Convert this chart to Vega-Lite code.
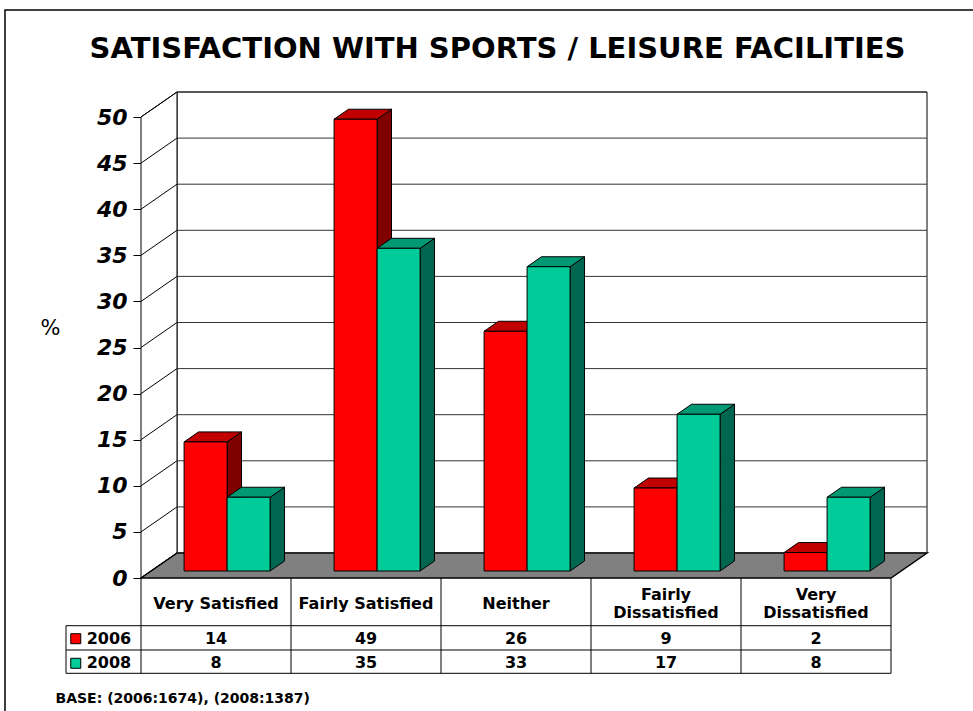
{
  "$schema": "https://vega.github.io/schema/vega-lite/v6.json",
  "width": 973,
  "height": 711,
  "autosize": {"type": "none"},
  "padding": 0,
  "background": "white",
  "config": {
    "view": {"stroke": null},
    "font": "DejaVu Sans",
    "axis": {"grid": false, "labels": false, "ticks": false, "domain": false}
  },
  "datasets": {
    "bars": [
      {"category": "Very Satisfied", "year": "2006", "value": 14},
      {"category": "Very Satisfied", "year": "2008", "value": 8},
      {"category": "Fairly Satisfied", "year": "2006", "value": 49},
      {"category": "Fairly Satisfied", "year": "2008", "value": 35},
      {"category": "Neither", "year": "2006", "value": 26},
      {"category": "Neither", "year": "2008", "value": 33},
      {"category": "Fairly Dissatisfied", "year": "2006", "value": 9},
      {"category": "Fairly Dissatisfied", "year": "2008", "value": 17},
      {"category": "Very Dissatisfied", "year": "2006", "value": 2},
      {"category": "Very Dissatisfied", "year": "2008", "value": 8}
    ],
    "grid": [
      {"v": 0}, {"v": 5}, {"v": 10}, {"v": 15}, {"v": 20}, {"v": 25},
      {"v": 30}, {"v": 35}, {"v": 40}, {"v": 45}, {"v": 50}
    ]
  },
  "layer": [
    {
      "data": {"values": [{}]},
      "mark": {"type": "rect", "filled": false, "stroke": "black", "strokeWidth": 1.5},
      "encoding": {
        "x": {"datum": -0.9067, "type": "quantitative", "scale": {"domain": [0, 5], "range": [141, 891], "nice": false, "zero": false}},
        "x2": {"datum": 6},
        "y": {"datum": 61.6, "type": "quantitative", "scale": {"domain": [0, 50], "range": [578, 117], "nice": false, "zero": false}},
        "y2": {"datum": -20}
      }
    },
    {
      "data": {"values": [{"title": "SATISFACTION WITH SPORTS / LEISURE FACILITIES"}]},
      "mark": {"type": "text", "font": "DejaVu Sans", "fontSize": 29, "fontWeight": "bold", "color": "black", "align": "center", "baseline": "alphabetic"},
      "encoding": {
        "x": {"datum": 2.3767, "type": "quantitative"},
        "y": {"datum": 56.4, "type": "quantitative"},
        "text": {"field": "title"}
      }
    },
    {
      "data": {"values": [{}]},
      "mark": {"type": "rect", "fill": "white", "stroke": "black", "strokeWidth": 1, "xOffset": 36, "x2Offset": 36, "yOffset": -25, "y2Offset": -25},
      "encoding": {
        "x": {"datum": 0, "type": "quantitative"},
        "x2": {"datum": 5},
        "y": {"datum": 0, "type": "quantitative"},
        "y2": {"datum": 50}
      }
    },
    {
      "data": {"values": [{}]},
      "transform": [
        {"calculate": "0", "as": "near"},
        {"calculate": "1", "as": "far"},
        {"fold": ["near", "far"], "as": ["face", "d"]},
        {"calculate": "datum.d * 0.24", "as": "wx"},
        {"calculate": "50 + datum.d * 2.7115", "as": "wy"},
        {"calculate": "datum.d * 2.7115", "as": "wy0"}
      ],
      "mark": {"type": "area", "orient": "vertical", "fill": "white", "stroke": "black", "strokeWidth": 1},
      "encoding": {
        "x": {"field": "wx", "type": "quantitative"},
        "y": {"field": "wy", "type": "quantitative", "stack": null},
        "y2": {"field": "wy0"}
      }
    },
    {
      "data": {"values": [{}]},
      "transform": [
        {"calculate": "0", "as": "near"},
        {"calculate": "1", "as": "far"},
        {"fold": ["near", "far"], "as": ["face", "d"]},
        {"calculate": "datum.d * 0.24", "as": "fx0"},
        {"calculate": "5 + datum.d * 0.24", "as": "fx1"},
        {"calculate": "datum.d * 2.7115", "as": "fy"}
      ],
      "mark": {"type": "area", "orient": "horizontal", "fill": "#808080", "stroke": "black", "strokeWidth": 1.5},
      "encoding": {
        "y": {"field": "fy", "type": "quantitative"},
        "x": {"field": "fx0", "type": "quantitative", "stack": null},
        "x2": {"field": "fx1"}
      }
    },
    {
      "data": {"name": "grid"},
      "mark": {"type": "rule", "stroke": "#333333", "strokeWidth": 1, "xOffset": 36, "x2Offset": 36, "yOffset": -25},
      "encoding": {
        "x": {"datum": 0, "type": "quantitative"},
        "x2": {"datum": 5},
        "y": {
          "field": "v",
          "type": "quantitative",
          "axis": {
            "orient": "left",
            "title": "%",
            "titleAngle": 0,
            "titleX": -91,
            "titleY": 328,
            "titleAlign": "center",
            "titleBaseline": "middle",
            "titleFont": "DejaVu Sans",
            "titleFontSize": 21,
            "titleFontWeight": "normal",
            "titleColor": "black",
            "offset": -141,
            "values": [0, 5, 10, 15, 20, 25, 30, 35, 40, 45, 50],
            "labels": true,
            "ticks": true,
            "domain": true,
            "labelFont": "DejaVu Sans",
            "labelFontSize": 22,
            "labelFontWeight": "bold",
            "labelFontStyle": "italic",
            "labelColor": "black",
            "labelPadding": 6,
            "labelOverlap": false,
            "tickSize": 8,
            "tickColor": "black",
            "domainColor": "black",
            "grid": false
          }
        }
      }
    },
    {
      "data": {"name": "grid"},
      "mark": {"type": "rule", "stroke": "black", "strokeWidth": 1, "x2Offset": 36, "y2Offset": -25},
      "encoding": {
        "x": {"datum": 0, "type": "quantitative"},
        "x2": {"datum": 0},
        "y": {"field": "v", "type": "quantitative"},
        "y2": {"field": "v"}
      }
    },
    {
      "data": {"name": "bars"},
      "transform": [
        {"calculate": "indexof(['Very Satisfied','Fairly Satisfied','Neither','Fairly Dissatisfied','Very Dissatisfied'], datum.category)", "as": "ci"},
        {"calculate": "datum.ci + 0.22 + (datum.year == '2008' ? 0.2867 : 0)", "as": "xl"},
        {"calculate": "0.28", "as": "near"},
        {"calculate": "0.68", "as": "far"},
        {"fold": ["near", "far"], "as": ["face", "d"]},
        {"calculate": "datum.xl + 0.2867 + datum.d * 0.24", "as": "sx"},
        {"calculate": "datum.value + datum.d * 2.7115", "as": "sy"},
        {"calculate": "datum.d * 2.7115", "as": "sy0"}
      ],
      "mark": {"type": "area", "orient": "vertical", "stroke": "black", "strokeWidth": 1},
      "encoding": {
        "x": {"field": "sx", "type": "quantitative"},
        "y": {"field": "sy", "type": "quantitative", "stack": null},
        "y2": {"field": "sy0"},
        "detail": [{"field": "category"}, {"field": "year"}],
        "fill": {"condition": {"test": "datum.year == '2006'", "value": "#800000"}, "value": "#006650"}
      }
    },
    {
      "data": {"name": "bars"},
      "transform": [
        {"calculate": "indexof(['Very Satisfied','Fairly Satisfied','Neither','Fairly Dissatisfied','Very Dissatisfied'], datum.category)", "as": "ci"},
        {"calculate": "datum.ci + 0.22 + (datum.year == '2008' ? 0.2867 : 0)", "as": "xl"},
        {"calculate": "0.28", "as": "near"},
        {"calculate": "0.68", "as": "far"},
        {"fold": ["near", "far"], "as": ["face", "d"]},
        {"calculate": "datum.xl + datum.d * 0.24", "as": "tx0"},
        {"calculate": "datum.xl + 0.2867 + datum.d * 0.24", "as": "tx1"},
        {"calculate": "datum.value + datum.d * 2.7115", "as": "ty"}
      ],
      "mark": {"type": "area", "orient": "horizontal", "stroke": "black", "strokeWidth": 1},
      "encoding": {
        "y": {"field": "ty", "type": "quantitative"},
        "x": {"field": "tx0", "type": "quantitative", "stack": null},
        "x2": {"field": "tx1"},
        "detail": [{"field": "category"}, {"field": "year"}],
        "fill": {"condition": {"test": "datum.year == '2006'", "value": "#C00000"}, "value": "#009973"}
      }
    },
    {
      "data": {"name": "bars"},
      "transform": [
        {"calculate": "indexof(['Very Satisfied','Fairly Satisfied','Neither','Fairly Dissatisfied','Very Dissatisfied'], datum.category)", "as": "ci"},
        {"calculate": "datum.ci + 0.22 + (datum.year == '2008' ? 0.2867 : 0) + 0.0672", "as": "fx"},
        {"calculate": "datum.fx + 0.2867", "as": "fx2"},
        {"calculate": "0.759", "as": "fy0"},
        {"calculate": "datum.value + 0.759", "as": "fy"}
      ],
      "mark": {"type": "rect", "stroke": "black", "strokeWidth": 1},
      "encoding": {
        "x": {
          "field": "fx",
          "type": "quantitative",
          "axis": {
            "orient": "bottom",
            "title": "BASE: (2006:1674), (2008:1387)",
            "labels": false,
            "ticks": false,
            "domain": false,
            "grid": false,
            "titleX": 55,
            "titleY": -9,
            "titleAlign": "left",
            "titleBaseline": "alphabetic",
            "titleFont": "DejaVu Sans",
            "titleFontSize": 14,
            "titleFontWeight": "bold",
            "titleColor": "black"
          }
        },
        "x2": {"field": "fx2"},
        "y": {"field": "fy0", "type": "quantitative"},
        "y2": {"field": "fy"},
        "fill": {"condition": {"test": "datum.year == '2006'", "value": "#FF0000"}, "value": "#00CC99"}
      }
    },
    {
      "data": {"name": "bars"},
      "transform": [
        {"filter": "datum.year == '2006'"},
        {"calculate": "indexof(['Very Satisfied','Fairly Satisfied','Neither','Fairly Dissatisfied','Very Dissatisfied'], datum.category)", "as": "ci"}
      ],
      "mark": {"type": "rule", "stroke": "black", "strokeWidth": 1},
      "encoding": {
        "x": {"field": "ci", "type": "quantitative"},
        "y": {"datum": 0, "type": "quantitative"},
        "y2": {"datum": -10.336}
      }
    },
    {
      "data": {"values": [{}]},
      "mark": {"type": "rule", "stroke": "black", "strokeWidth": 1},
      "encoding": {
        "x": {"datum": 5, "type": "quantitative"},
        "y": {"datum": 0, "type": "quantitative"},
        "y2": {"datum": -10.336}
      }
    },
    {
      "data": {"values": [{}]},
      "mark": {"type": "rule", "stroke": "black", "strokeWidth": 1},
      "encoding": {
        "x": {"datum": -0.5, "type": "quantitative"},
        "y": {"datum": -5.174, "type": "quantitative"},
        "y2": {"datum": -10.336}
      }
    },
    {
      "data": {"values": [{}]},
      "mark": {"type": "rule", "stroke": "black", "strokeWidth": 1},
      "encoding": {
        "x": {"datum": -0.5, "type": "quantitative"},
        "x2": {"datum": 5},
        "y": {"datum": -5.174, "type": "quantitative"}
      }
    },
    {
      "data": {"values": [{}]},
      "mark": {"type": "rule", "stroke": "black", "strokeWidth": 1},
      "encoding": {
        "x": {"datum": -0.5, "type": "quantitative"},
        "x2": {"datum": 5},
        "y": {"datum": -7.809, "type": "quantitative"}
      }
    },
    {
      "data": {"values": [{}]},
      "mark": {"type": "rule", "stroke": "black", "strokeWidth": 1},
      "encoding": {
        "x": {"datum": -0.5, "type": "quantitative"},
        "x2": {"datum": 5},
        "y": {"datum": -10.336, "type": "quantitative"}
      }
    },
    {
      "data": {"name": "bars"},
      "transform": [
        {"filter": "datum.year == '2006' && indexof(datum.category, 'Dissatisfied') < 0"},
        {"calculate": "indexof(['Very Satisfied','Fairly Satisfied','Neither','Fairly Dissatisfied','Very Dissatisfied'], datum.category) + 0.5", "as": "cx"}
      ],
      "mark": {"type": "text", "font": "DejaVu Sans", "fontSize": 16, "fontWeight": "bold", "color": "black", "align": "center", "baseline": "middle"},
      "encoding": {
        "x": {"field": "cx", "type": "quantitative"},
        "y": {"datum": -2.82, "type": "quantitative"},
        "text": {"field": "category"}
      }
    },
    {
      "data": {"name": "bars"},
      "transform": [
        {"filter": "datum.year == '2006' && indexof(datum.category, 'Dissatisfied') > 0"},
        {"calculate": "indexof(['Very Satisfied','Fairly Satisfied','Neither','Fairly Dissatisfied','Very Dissatisfied'], datum.category) + 0.5", "as": "cx"},
        {"calculate": "replace(datum.category, ' ', '|')", "as": "label"}
      ],
      "mark": {"type": "text", "font": "DejaVu Sans", "fontSize": 16, "fontWeight": "bold", "color": "black", "align": "center", "baseline": "middle", "lineBreak": "|", "lineHeight": 18},
      "encoding": {
        "x": {"field": "cx", "type": "quantitative"},
        "y": {"datum": -1.844, "type": "quantitative"},
        "text": {"field": "label"}
      }
    },
    {
      "data": {"name": "bars"},
      "transform": [
        {"filter": "datum.year == '2006'"},
        {"calculate": "indexof(['Very Satisfied','Fairly Satisfied','Neither','Fairly Dissatisfied','Very Dissatisfied'], datum.category) + 0.5", "as": "cx"}
      ],
      "mark": {"type": "text", "font": "DejaVu Sans", "fontSize": 16, "fontWeight": "bold", "color": "black", "align": "center", "baseline": "middle"},
      "encoding": {
        "x": {"field": "cx", "type": "quantitative"},
        "y": {"datum": -6.584, "type": "quantitative"},
        "text": {"field": "value", "type": "quantitative"}
      }
    },
    {
      "data": {"name": "bars"},
      "transform": [
        {"filter": "datum.year == '2008'"},
        {"calculate": "indexof(['Very Satisfied','Fairly Satisfied','Neither','Fairly Dissatisfied','Very Dissatisfied'], datum.category) + 0.5", "as": "cx"}
      ],
      "mark": {"type": "text", "font": "DejaVu Sans", "fontSize": 16, "fontWeight": "bold", "color": "black", "align": "center", "baseline": "middle"},
      "encoding": {
        "x": {"field": "cx", "type": "quantitative"},
        "y": {"datum": -9.252, "type": "quantitative"},
        "text": {"field": "value", "type": "quantitative"}
      }
    },
    {
      "data": {"name": "bars"},
      "transform": [
        {"filter": "datum.category == 'Very Satisfied'"},
        {"calculate": "datum.year == '2006' ? -6.584 : -9.252", "as": "ry"}
      ],
      "mark": {"type": "text", "font": "DejaVu Sans", "fontSize": 16, "fontWeight": "bold", "color": "black", "align": "left", "baseline": "middle"},
      "encoding": {
        "x": {"datum": -0.362, "type": "quantitative"},
        "y": {"field": "ry", "type": "quantitative"},
        "text": {"field": "year"}
      }
    },
    {
      "data": {"name": "bars"},
      "transform": [
        {"filter": "datum.category == 'Very Satisfied'"},
        {"calculate": "datum.year == '2006' ? -6.584 : -9.252", "as": "ry"}
      ],
      "mark": {"type": "point", "shape": "square", "size": 100, "filled": true, "opacity": 1, "stroke": "black", "strokeWidth": 1},
      "encoding": {
        "x": {"datum": -0.435, "type": "quantitative"},
        "y": {"field": "ry", "type": "quantitative"},
        "fill": {"condition": {"test": "datum.year == '2006'", "value": "#FF0000"}, "value": "#00CC99"}
      }
    }
  ]
}
